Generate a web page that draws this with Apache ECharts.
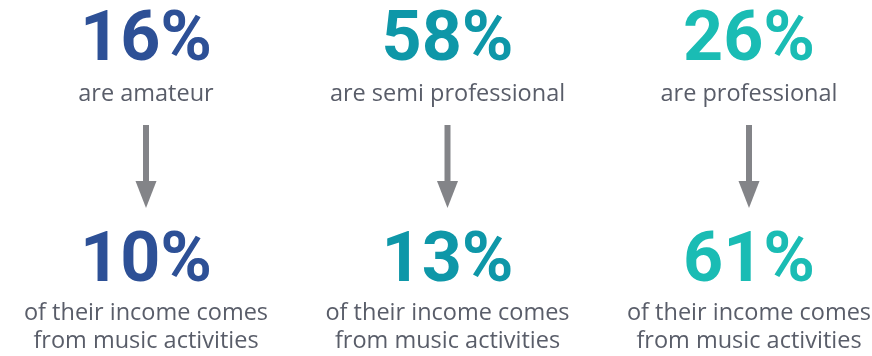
<!DOCTYPE html>
<html><head><meta charset="utf-8">
<script src="https://cdn.jsdelivr.net/npm/echarts@6/dist/echarts.min.js"></script>
<style>html,body{margin:0;padding:0;background:#fff}#c{width:872px;height:356px}</style>
</head><body><div id="c"></div>
<script>
// ---- data ----
const groups = ['amateur', 'semi professional', 'professional'];
const shareOfMusicians = [16, 58, 26];          // % of musicians in each group
const incomeFromMusic = [10, 13, 61];           // % of income from music activities
const topLabels = ['are amateur', 'are semi professional', 'are professional'];
const bottomLine1 = ['of their income comes', 'of their income comes', 'of their income comes'];
const bottomLine2 = ['from music activities', 'from music activities', 'from music activities'];

// ---- styling / layout ----
const colors = ['#2d5096', '#0e97a8', '#1abcb4'];
const textGray = '#595d69';
const arrowGray = '#838488';
const NUM_FONT = 'Roboto, "Noto Sans", sans-serif';
const TXT_FONT = '"Open Sans", "Noto Sans", sans-serif';
// vertical row positions (inverse value axis, 0 at top)
const ROW = { topNum: 42, topLabel: 94, arrowTop: 125, arrowHeadStart: 181, arrowTip: 208, botNum: 263, line1: 313, line2: 341 };

function textSeries(y, texts, font, size, weight, colorFn) {
  return {
    type: 'scatter', symbolSize: 0, silent: true,
    itemStyle: { color: 'transparent', opacity: 1 },
    data: groups.map((g, i) => ({ value: [i, y], name: g, label: { color: colorFn(i) } })),
    label: {
      show: true, position: 'inside',
      formatter: p => texts[p.dataIndex],
      fontFamily: font, fontSize: size, fontWeight: weight,
      align: 'center', verticalAlign: 'middle'
    }
  };
}

const chart = echarts.init(document.getElementById('c'), null, { renderer: 'canvas' });
chart.setOption({
  animation: false,
  backgroundColor: '#ffffff',
  grid: { left: 146, right: 123, top: 0, bottom: 0 },
  xAxis: { type: 'value', min: 0, max: groups.length - 1, show: false },
  yAxis: { type: 'value', min: 0, max: 356, inverse: true, show: false },
  series: [
    textSeries(ROW.topNum, shareOfMusicians.map(v => v + '%'), NUM_FONT, 70, 'bold', i => colors[i]),
    textSeries(ROW.topLabel, topLabels, TXT_FONT, 23.5, 'normal', () => textGray),
    textSeries(ROW.botNum, incomeFromMusic.map(v => v + '%'), NUM_FONT, 70, 'bold', i => colors[i]),
    textSeries(ROW.line1, bottomLine1, TXT_FONT, 23.5, 'normal', () => textGray),
    textSeries(ROW.line2, bottomLine2, TXT_FONT, 23.5, 'normal', () => textGray),
    {
      type: 'custom', silent: true,
      data: groups.map((g, i) => [i]),
      renderItem: (params, api) => {
        const x = api.coord([api.value(0), 0])[0];
        const yTop = api.coord([0, ROW.arrowTop])[1];
        const yHead = api.coord([0, ROW.arrowHeadStart])[1];
        const yTip = api.coord([0, ROW.arrowTip])[1];
        return {
          type: 'group',
          children: [
            { type: 'rect', shape: { x: x - 3, y: yTop, width: 6, height: yHead - yTop + 1 }, style: { fill: arrowGray } },
            { type: 'polygon', shape: { points: [[x - 10.5, yHead], [x + 10.5, yHead], [x, yTip]] }, style: { fill: arrowGray } }
          ]
        };
      }
    }
  ]
});
</script></body></html>
